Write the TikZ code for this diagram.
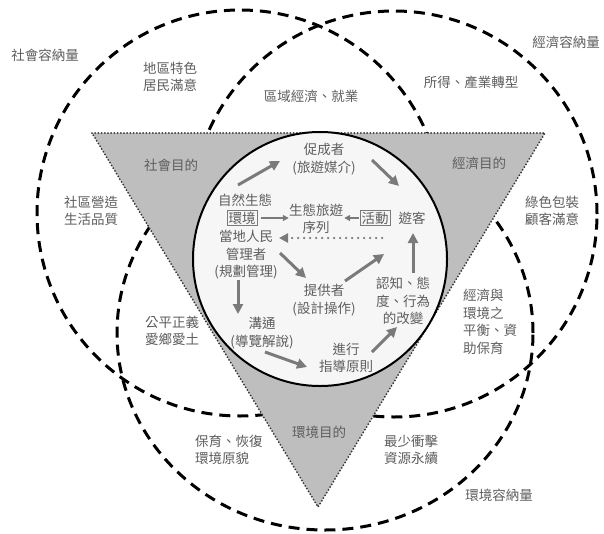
\documentclass[tikz,border=0pt]{standalone}
\usepackage{fontspec}
\newfontfamily\cjk{Noto Sans CJK TC}
\usetikzlibrary{arrows.meta}
\definecolor{txtgray}{HTML}{5E5E5E}
\definecolor{arrgray}{HTML}{7A7A7A}
\definecolor{trigray}{HTML}{BEBEBE}
\definecolor{circfill}{HTML}{F6F6F6}
\begin{document}
\begin{tikzpicture}[x=1pt,y=-1pt,
  txt/.style={font=\cjk\fontsize{13.5}{17.5}\selectfont, text=txtgray, align=center, inner sep=0pt},
  dcirc/.style={draw=black, line width=3pt, dash pattern=on 11pt off 7pt},
  garrow/.style={draw=arrgray, line width=3pt, -{Triangle[length=10pt,width=10pt]}},
  sarrow/.style={draw=arrgray, line width=1.5pt, -{Triangle[length=6pt,width=6pt]}},
  darrow/.style={draw=arrgray, line width=2.5pt, line cap=round, dash pattern=on 0pt off 6pt, -{Triangle[length=9pt,width=9pt]}},
  boxed/.style={draw=arrgray, line width=1pt, inner sep=1.5pt}
]
\useasboundingbox (0,0) rectangle (604,533);
\fill[white] (0,0) rectangle (604,533);
% capacity circles
\draw[dcirc] (240,213) circle[radius=203pt];
\draw[dcirc] (394,214) circle[radius=203pt];
\draw[dcirc] (325,333) ellipse[x radius=208pt, y radius=197pt];
% triangle
\fill[trigray] (92,133) -- (545,133) -- (318,507) -- cycle;
\draw[draw=black!80, line width=2pt, line cap=round, dash pattern=on 0pt off 3.2pt] (92,133) -- (545,133) -- (318,507) -- cycle;
% inner circle
\draw[line width=2pt, fill=circfill] (320,259) circle[radius=127pt];

% outside texts
\node[txt] (socc) at (45,55) {社會容納量};
\node[txt] (ecoc) at (566,42) {經濟容納量};
\node[txt] (envc) at (499,495) {環境容納量};
\node[txt] (loc) at (170,77) {地區特色\\居民滿意};
\node[txt] (reg) at (311,96) {區域經濟、就業};
\node[txt] (inc) at (471,82) {所得、產業轉型};
\node[txt] (socg) at (171,165) {社會目的};
\node[txt] (ecog) at (479,163) {經濟目的};
\node[txt] (envg) at (319,432) {環境目的};
\node[txt] (comm) at (91,211) {社區營造\\生活品質};
\node[txt] (green) at (552,211) {綠色包裝\\顧客滿意};
\node[txt] (fair) at (172,331) {公平正義\\愛鄉愛土};
\node[txt, align=left, anchor=west] (bal) at (463,322) {經濟與\\環境之\\平衡、資\\助保育};
\node[txt, align=left, anchor=west] (cons) at (195,450) {保育、恢復\\環境原貌};
\node[txt] (min) at (411,450) {最少衝擊\\資源永續};

% inside texts
\node[txt] (fac) at (324,159) {促成者\\(旅遊媒介)};
\node[txt] (nat) at (245,200) {自然生態};
\node[txt, boxed] (env) at (242,218) {環境};
\node[txt] (loc2) at (246,255) {當地人民\\管理者\\(規劃管理)};
\node[txt] (seq) at (316,219) {生態旅遊\\序列};
\node[txt, boxed] (act) at (375,218) {活動};
\node[txt] (vis) at (412,218) {遊客};
\node[txt] (prov) at (324,300) {提供者\\(設計操作)};
\node[txt] (cog) at (403,301) {認知、態\\度、行為\\的改變};
\node[txt] (comu) at (262,333) {溝通\\(導覽解說)};
\node[txt] (guide) at (346,358) {進行\\指導原則};

% arrow coordinates
\coordinate (a1s) at (238,185); \coordinate (a1e) at (280,161);
\coordinate (a2s) at (372,160); \coordinate (a2e) at (399,186);
\coordinate (a6s) at (280,253); \coordinate (a6e) at (306,278);
\coordinate (a7s) at (345,281); \coordinate (a7e) at (384,254);
\coordinate (a8s) at (413,273); \coordinate (a8e) at (413,233);
\coordinate (a9s) at (238,280); \coordinate (a9e) at (238,314);
\coordinate (a10s) at (265,352); \coordinate (a10e) at (307,367);
\coordinate (a11s) at (372,352); \coordinate (a11e) at (397,327);
\coordinate (a5s) at (382,238); \coordinate (a5e) at (279,238);

\draw[garrow] (a1s) -- (a1e);
\draw[garrow] (a2s) -- (a2e);
\draw[garrow] (a6s) -- (a6e);
\draw[garrow] (a7s) -- (a7e);
\draw[garrow] (a8s) -- (a8e);
\draw[garrow] (a9s) -- (a9e);
\draw[garrow] (a10s) -- (a10e);
\draw[garrow] (a11s) -- (a11e);
\draw[sarrow] (env.east) ++(3,0) coordinate (a3s) -- (seq.west |- env.east) coordinate (a3e);
\draw[sarrow] (act.west) ++(-1,0) coordinate (a4s) -- ([xshift=1pt]seq.east |- act.west) coordinate (a4e);
\draw[darrow] (a5s) -- (a5e);
\end{tikzpicture}
\end{document}
